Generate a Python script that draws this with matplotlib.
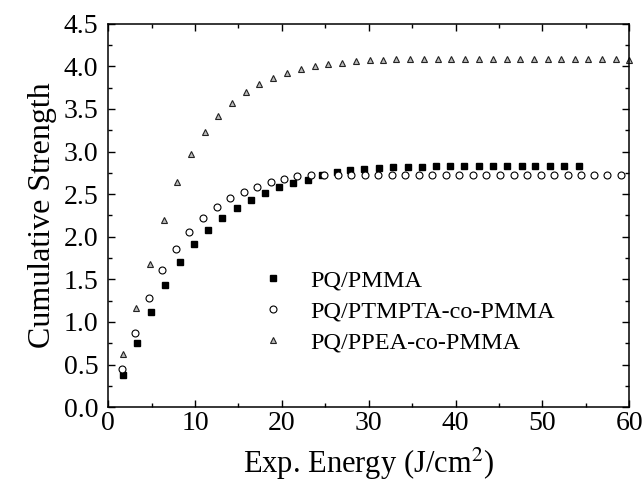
import numpy as np
from matplotlib import pyplot as plt

plt.rcParams['font.family'] = ['Liberation Serif', 'DejaVu Serif']
plt.rcParams['mathtext.fontset'] = 'stix'

# data

# PQ/PMMA (filled squares)
x_pmma = [1.66, 3.30, 4.94, 6.58, 8.22, 9.86, 11.5, 13.1, 14.8, 16.4,
          18.1, 19.7, 21.3, 23.0, 24.6, 26.3, 27.9, 29.5, 31.2, 32.8,
          34.5, 36.1, 37.7, 39.4, 41.0, 42.7, 44.3, 45.9, 47.6, 49.2,
          50.9, 52.5, 54.2]
y_pmma = [0.38, 0.75, 1.12, 1.43, 1.70, 1.91, 2.08, 2.22, 2.34, 2.43,
          2.51, 2.58, 2.63, 2.67, 2.72, 2.76, 2.78, 2.80, 2.81, 2.82,
          2.82, 2.82, 2.83, 2.83, 2.83, 2.83, 2.83, 2.83, 2.83, 2.83,
          2.83, 2.83, 2.83]

# PQ/PTMPTA-co-PMMA (open circles)
x_ptmpta = [1.57, 3.13, 4.68, 6.24, 7.79, 9.35, 10.9, 12.5, 14.0, 15.6,
            17.1, 18.7, 20.2, 21.8, 23.3, 24.9, 26.5, 28.0, 29.6, 31.1,
            32.7, 34.2, 35.8, 37.3, 38.9, 40.4, 42.0, 43.5, 45.1, 46.7,
            48.2, 49.8, 51.3, 52.9, 54.4, 56.0, 57.5, 59.1]
y_ptmpta = [0.45, 0.87, 1.28, 1.61, 1.86, 2.06, 2.22, 2.35, 2.45, 2.52,
            2.585, 2.64, 2.68, 2.71, 2.72, 2.73, 2.73, 2.73, 2.73, 2.73,
            2.73, 2.73, 2.73, 2.73, 2.73, 2.73, 2.73, 2.73, 2.73, 2.73,
            2.73, 2.73, 2.73, 2.73, 2.73, 2.73, 2.73, 2.73]

# PQ/PPEA-co-PMMA (open triangles)
x_ppea = [1.65, 3.23, 4.81, 6.38, 7.96, 9.54, 11.1, 12.7, 14.3, 15.9,
          17.4, 19.0, 20.6, 22.2, 23.8, 25.3, 26.9, 28.5, 30.1, 31.7,
          33.2, 34.8, 36.4, 38.0, 39.5, 41.1, 42.7, 44.3, 45.9, 47.4,
          49.0, 50.6, 52.2, 53.8, 55.3, 56.9, 58.5, 60.0]
y_ppea = [0.62, 1.16, 1.68, 2.20, 2.64, 2.965, 3.23, 3.42, 3.57, 3.70,
          3.79, 3.86, 3.92, 3.965, 4.00, 4.03, 4.04, 4.06, 4.07, 4.07,
          4.08, 4.08, 4.08, 4.08, 4.08, 4.08, 4.08, 4.08, 4.08, 4.08,
          4.08, 4.08, 4.08, 4.08, 4.08, 4.08, 4.08, 4.07]

fig = plt.figure(figsize=(6.44, 4.83), dpi=100)
ax = fig.add_axes([0.168, 0.157, 0.809, 0.794])

ax.plot(x_pmma, y_pmma, linestyle='none', marker='s', markersize=4.5,
        color='black', label='PQ/PMMA')
ax.plot(x_ptmpta, y_ptmpta, linestyle='none', marker='o', markersize=5,
        markerfacecolor='white', markeredgecolor='black', markeredgewidth=0.8,
        label='PQ/PTMPTA-co-PMMA')
ax.plot(x_ppea, y_ppea, linestyle='none', marker='^', markersize=5,
        markerfacecolor='#bbbbbb', markeredgecolor='#222222', markeredgewidth=0.8,
        label='PQ/PPEA-co-PMMA', clip_on=False)

ax.set_xlim(0, 60)
ax.set_ylim(0, 4.5)
ax.set_xticks(np.arange(0, 61, 10))
ax.set_xticks(np.arange(5, 60, 10), minor=True)
ax.set_yticks(np.arange(0, 4.51, 0.5))
ax.set_yticks(np.arange(0.25, 4.5, 0.5), minor=True)
ax.yaxis.set_major_formatter(plt.FormatStrFormatter('%.1f'))

ax.tick_params(which='both', direction='in', top=True, right=True,
               labelsize=20, width=1.0)
ax.tick_params(which='major', length=5)
ax.tick_params(which='minor', length=3)
ax.tick_params(axis='y', which='major', pad=7)
ax.tick_params(axis='x', which='major', pad=3)
for s in ax.spines.values():
    s.set_linewidth(1.1)

ax.set_xlabel('Exp. Energy (J/cm$^2$)', fontsize=22, labelpad=7)
ax.set_ylabel('Cumulative Strength', fontsize=23, labelpad=5)

ax.legend(loc='center left', bbox_to_anchor=(0.295, 0.249), frameon=False,
          fontsize=17.5, handlelength=0.9, handletextpad=1.1,
          labelspacing=0.36, borderpad=0, borderaxespad=0)

plt.savefig('out.png', dpi=100)
plt.close()
